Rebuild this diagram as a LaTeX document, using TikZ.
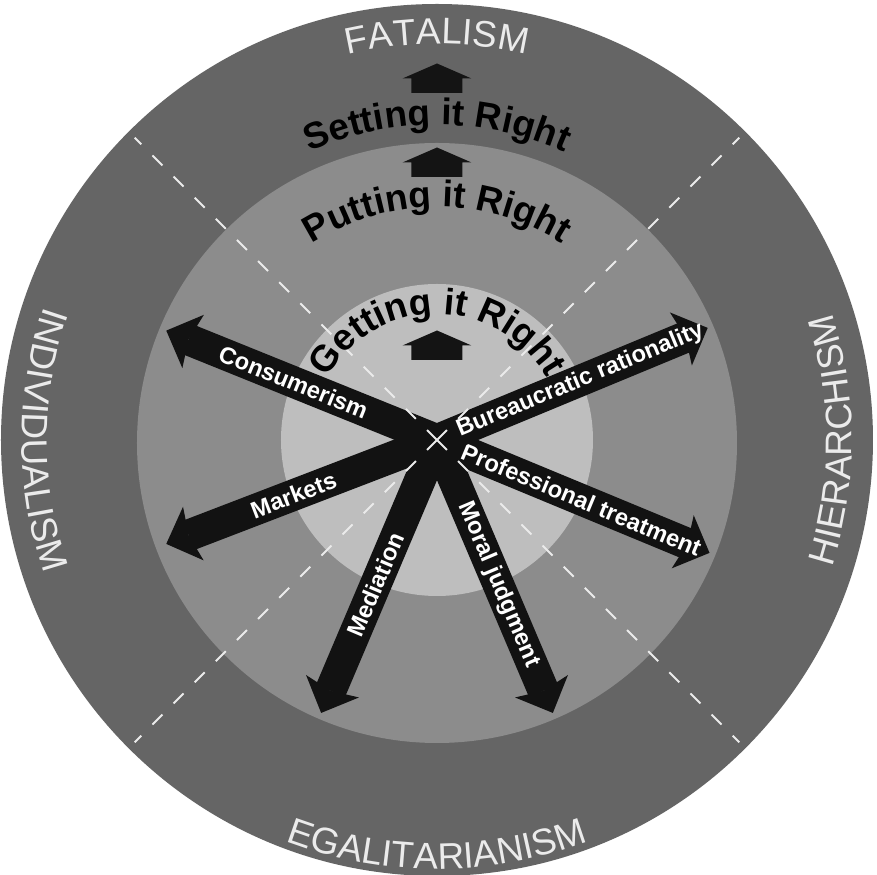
\documentclass[tikz,border=0pt]{standalone}
\usepackage{fontspec}
\setmainfont{Liberation Sans}
\usepackage{tikz}
\usetikzlibrary{arrows.meta,decorations.text}
\definecolor{ringouter}{HTML}{656565}
\definecolor{ringmid}{HTML}{8C8C8C}
\definecolor{ringinner}{HTML}{BEBEBE}
\definecolor{ringtext}{HTML}{EBEBEB}
\newcommand{\ringfont}{\fontsize{21}{21}\selectfont}
\newcommand{\levelfont}{\fontsize{21}{21}\selectfont\bfseries}
\newcommand{\upblock}[1]{\fill[black!92] (#1) ++(-0.51,0) -- ++(0,0.29) -- ++(-0.18,0) -- ++(0.69,0.3) -- ++(0.69,-0.3) -- ++(-0.18,0) -- ++(0,-0.29) -- cycle;}
\tikzset{
  bigarrow/.style={line width=0.63cm, draw=black!93, -{Stealth[length=0.58cm, width=1.15cm, inset=0.1cm, line width=0pt]}},
  armlabel/.style={sloped, pos=0.53, text=white, font=\bfseries\fontsize{13.5}{13.5}\selectfont, inner sep=0pt},
  divider/.style={draw=white!92!black, line width=1.1pt, dash pattern=on 8pt off 9pt},
  outerlabel/.style={decorate, decoration={text along path, text align=center, text color=ringtext, text={|\ringfont|#1}}},
  levellabel/.style={decorate, decoration={text along path, text align=center, text color=black, text={|\levelfont|#1}}}
}

\begin{document}
\begin{tikzpicture}
  \fill[white] (-8.74,-8.7) rectangle (8.8,8.8);
  \useasboundingbox (-8.74,-8.7) rectangle (8.8,8.8);
  \fill[ringouter] (0,0) circle (8.72);
  \fill[ringmid] (0,-0.06) circle (6.0);
  \fill[ringinner] (0,0) circle (3.12);
  \coordinate (hub) at (0,0);
  \coordinate (bureau) at (22.5:5.86);
  \coordinate (consum) at (158:5.84);
  \coordinate (markets) at (201:5.8);
  \coordinate (mediat) at (247:5.93);
  \coordinate (moral) at (293:5.93);
  \coordinate (profess) at (-22.5:5.9);
  \draw[bigarrow] (hub) -- node[armlabel]{Consumerism} (consum);
  \draw[bigarrow] (hub) -- node[armlabel]{Markets} (markets);
  \draw[bigarrow] (hub) -- node[armlabel]{Mediation} (mediat);
  \draw[bigarrow] (hub) -- node[armlabel]{Moral judgment} (moral);
  \draw[bigarrow] (hub) -- node[armlabel]{Professional treatment} (profess);
  \draw[bigarrow] (hub) -- node[armlabel]{Bureaucratic rationality} (bureau);
  \foreach \a in {45,135,225,315}
    \draw[divider] (hub) -- (\a:8.55);
  \path[outerlabel=FATALISM] (130:7.92) arc[start angle=130, end angle=50, radius=7.92];
  \path[outerlabel=EGALITARIANISM] (220:8.58) arc[start angle=220, end angle=320, radius=8.58];
  \path[outerlabel=INDIVIDUALISM] (130:8.3) arc[start angle=130, end angle=230, radius=8.3];
  \path[outerlabel=HIERARCHISM] (-50:8.3) arc[start angle=-50, end angle=50, radius=8.3];
  \path[levellabel=Setting it Right] (140:6.3) arc[start angle=140, end angle=40, radius=6.3];
  \path[levellabel=Putting it Right] (160:4.66) arc[start angle=160, end angle=20, radius=4.66];
  \path[levellabel=Getting it Right] (180:2.52) arc[start angle=180, end angle=0, radius=2.52];
  \coordinate (upfatal) at (0,6.94);
  \coordinate (upset) at (0,5.26);
  \coordinate (upput) at (0,1.6);
  \upblock{upfatal}
  \upblock{upset}
  \upblock{upput}
\end{tikzpicture}
\end{document}
